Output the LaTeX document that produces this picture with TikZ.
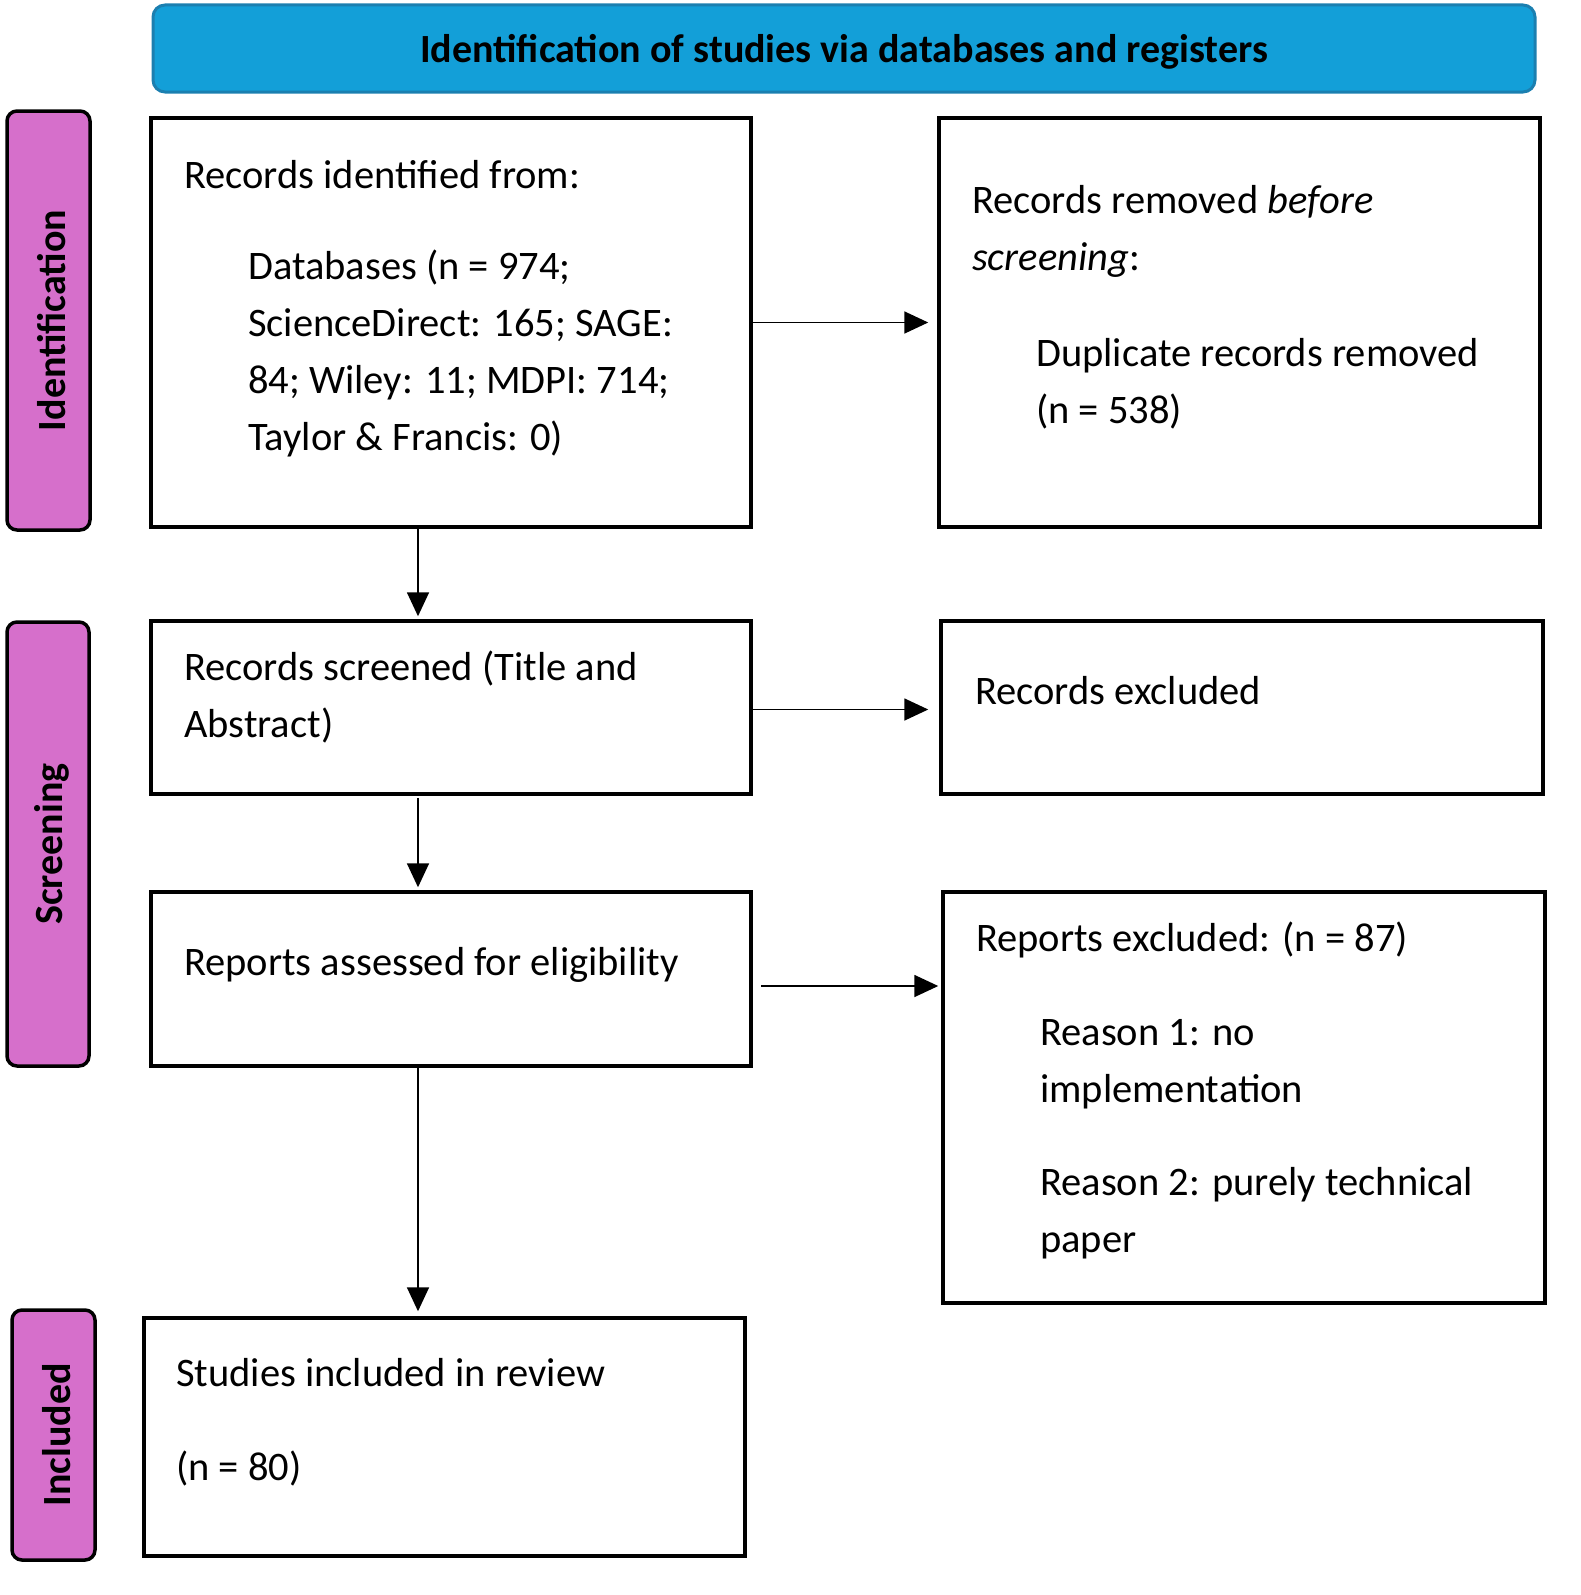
\documentclass[tikz,border=0pt]{standalone}
\usepackage{fontspec}
\setmainfont{Carlito}
\usetikzlibrary{arrows.meta}
\definecolor{banner}{HTML}{139FD8}
\definecolor{bannerb}{HTML}{1B7FB0}
\definecolor{side}{HTML}{D66FCB}
\begin{document}
\begin{tikzpicture}[x=1pt,y=-1pt,
  box/.style={draw,line width=3.5pt,minimum width=#1,inner sep=0pt},
  side/.style={draw,line width=3.5pt,fill=side,rounded corners=10pt,inner sep=0pt},
  lbl/.style={font=\fontsize{40}{44}\selectfont\bfseries,rotate=90},
  txt/.style={anchor=base west,align=left,inner sep=0pt,font=\fontsize{40.5}{57}\selectfont},
  arr/.style={line width=1.8pt,-{Triangle[length=24pt,width=22pt]}}]
\useasboundingbox (0,0) rectangle (1581,1595);
% banner
\node[draw=bannerb,fill=banner,line width=3pt,rounded corners=12pt,minimum width=1382pt,minimum height=87pt,inner sep=0pt] (ban) at (844,48.5) {};
\node[font=\fontsize{40}{44}\selectfont\bfseries] (bant) at (844,52) {Identification of studies via databases and registers};
% side bars
\node[side,minimum width=83pt,minimum height=419pt] (s1) at (48.5,320.5) {};
\node[lbl] (s1t) at (52,320.5) {Identification};
\node[side,minimum width=82pt,minimum height=444pt] (s2) at (48,844) {};
\node[lbl] (s2t) at (52,844) {Screening};
\node[side,minimum width=83pt,minimum height=250pt] (s3) at (53.5,1435) {};
\node[lbl] (s3t) at (57,1435) {Included};
% boxes
\node[box=600pt,minimum height=409pt] (b1) at (451,322.5) {};
\node[box=601pt,minimum height=409pt] (b2) at (1239.5,322.5) {};
\node[box=600pt,minimum height=173pt] (b3) at (451,707.5) {};
\node[box=602pt,minimum height=173pt] (b4) at (1242,707.5) {};
\node[box=600pt,minimum height=174pt] (b5) at (451,979) {};
\node[box=602pt,minimum height=411pt] (b6) at (1244,1097.5) {};
\node[box=601pt,minimum height=238pt] (b7) at (444.5,1437) {};
% texts (base = last line's baseline)
\node[txt] (t1) at (184,188) {Records identified from:};
\node[txt] (t1b) at (248,450) {Databases (n = 974;\\ScienceDirect: 165; SAGE:\\84; Wiley: 11; MDPI: 714;\\Taylor \& Francis: 0)};
\node[txt] (t2) at (972,270) {Records removed \textit{before}\\\textit{screening}:};
\node[txt] (t2b) at (1036,423) {Duplicate records removed\\(n = 538)};
\node[txt] (t3) at (184,737) {Records screened (Title and\\Abstract)};
\node[txt] (t4) at (975,704) {Records excluded};
\node[txt] (t5) at (184,975) {Reports assessed for eligibility};
\node[txt] (t6) at (976,951) {Reports excluded: (n = 87)};
\node[txt] (t6b) at (1040,1102) {Reason 1: no\\implementation};
\node[txt] (t6c) at (1040,1252) {Reason 2: purely technical\\paper};
\node[txt] (t7) at (176,1386) {Studies included in review};
\node[txt] (t7b) at (176,1480) {(n = 80)};
% connectors
\coordinate (xv) at (418,0);
\coordinate (a5) at (761,986);
\draw[arr,shorten >=9pt] (b1.east) -- (b2.west);
\draw[arr,shorten >=11pt] ([yshift=-2pt]b3.east) -- ([yshift=-2pt]b4.west);
\draw[arr,shorten >=3pt] (a5) -- (a5 -| b6.west);
\draw[arr,shorten >=3pt] (b1.south -| xv) -- (b3.north -| xv);
\draw[arr,shorten <=2pt,shorten >=3pt] (b3.south -| xv) -- (b5.north -| xv);
\draw[arr,shorten >=5pt] (b5.south -| xv) -- (b7.north -| xv);
\end{tikzpicture}
\end{document}
